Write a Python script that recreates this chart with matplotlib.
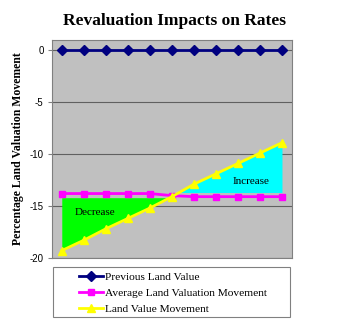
import numpy as np
import matplotlib.pyplot as plt
from matplotlib.patches import Rectangle

# chart values
points = list(range(11))
previous_land = [0, 0, 0, 0, 0, 0, 0, 0, 0, 0, 0]
avg_movement = [-13.8, -13.8, -13.8, -13.8, -13.8, -14.0, -14.1, -14.1, -14.1, -14.1, -14.1]
land_movement = [-19.3, -18.3, -17.2, -16.2, -15.2, -14.1, -12.9, -11.9, -10.9, -9.9, -8.9]
decrease_level = -14.2
increase_level = -13.7
series_names = ["Previous Land Value", "Average Land Valuation Movement", "Land Value Movement"]
yticks = [0, -5, -10, -15, -20]

serif = ["Liberation Serif", "DejaVu Serif"]

fig = plt.figure(figsize=(3.39, 3.31), dpi=100)
ax = fig.add_axes([0.153, 0.221, 0.708, 0.658])
ax.set_facecolor("#C0C0C0")

x = np.array(points, dtype=float)
y = np.array(land_movement)

# shaded areas between land movement and the average level
ax.fill_between(x, y, decrease_level, where=y <= decrease_level + 0.1,
                interpolate=True, color="#00FF00", zorder=2, linewidth=0)
ax.fill_between(x, y, increase_level, where=y >= increase_level - 0.1,
                interpolate=True, color="#00FFFF", zorder=2, linewidth=0)

ax.plot(points, previous_land, color="#000080", marker="D", markersize=5.5,
        linewidth=2, label=series_names[0], zorder=4)
ax.plot(points, avg_movement, color="#FF00FF", marker="s", markersize=5,
        linewidth=2, label=series_names[1], zorder=3)
ax.plot(points, land_movement, color="#FFFF00", marker="^", markersize=6,
        linewidth=2, label=series_names[2], zorder=5)

ax.text(1.5, -15.6, "Decrease", family=serif, fontsize=8, ha="center", va="center", zorder=6)
ax.text(8.6, -12.6, "Increase", family=serif, fontsize=8, ha="center", va="center", zorder=6)

ax.set_xlim(-0.45, 10.45)
ax.set_ylim(-20, 1)
ax.set_xticks([])
ax.set_yticks(yticks)
ax.set_yticklabels([str(t) for t in yticks], fontsize=7, family="Liberation Sans")
ax.tick_params(axis="y", length=3, color="#808080", width=0.8, pad=3)
ax.grid(axis="y", color="#606060", linewidth=0.8, zorder=1)
ax.set_axisbelow(True)
for s in ax.spines.values():
    s.set_color("#808080")
    s.set_linewidth(0.8)

ax.set_ylabel("Percentage Land Valuation Movement", family=serif, fontsize=8.5,
              fontweight="bold", labelpad=4)
fig.text(0.515, 0.938, "Revaluation Impacts on Rates", family=serif, fontsize=12.5,
         fontweight="bold", ha="center", va="center")

# legend box drawn separately so entries can sit indented inside it
fig.patches.append(Rectangle((53 / 339, 1 - 317 / 331), 237 / 339, 50 / 331,
                             transform=fig.transFigure, facecolor="white",
                             edgecolor="#808080", linewidth=0.8))
leg = fig.legend(loc="upper left", bbox_to_anchor=(79 / 339, 1 - 272 / 331),
                 prop={"family": serif, "size": 8.2}, frameon=False,
                 handlelength=2.1, handletextpad=0.15, borderpad=0,
                 labelspacing=0.55, borderaxespad=0)

fig.savefig("out.png", dpi=100)
